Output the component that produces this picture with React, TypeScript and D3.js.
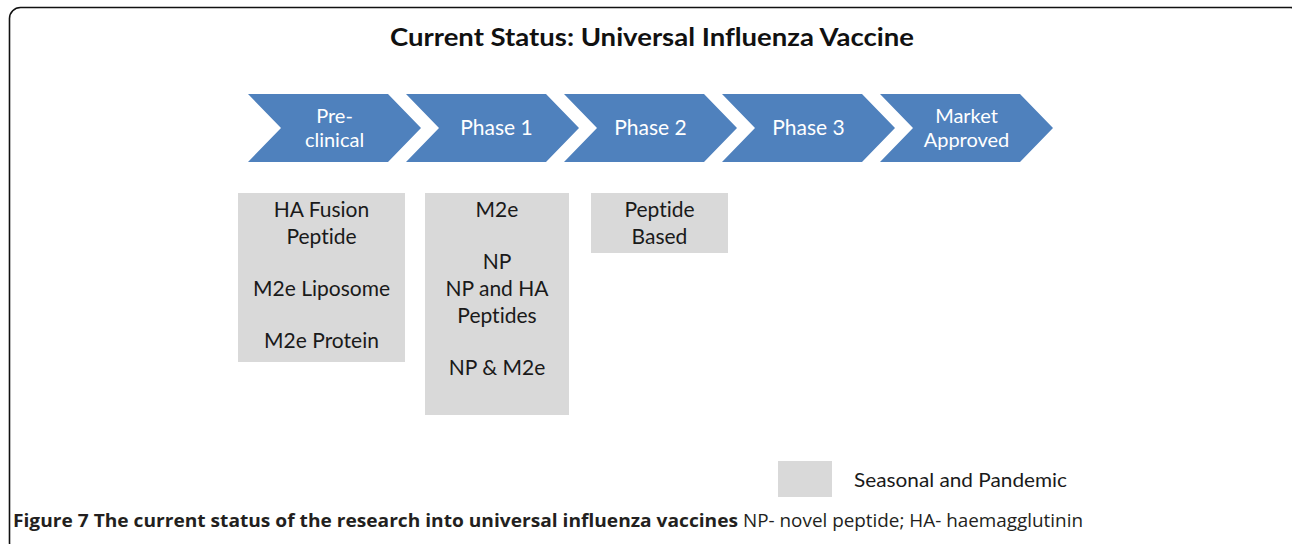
import * as d3 from 'd3';

// stages of the pipeline (\n = line break)
const phases = ['Pre-\nclinical', 'Phase 1', 'Phase 2', 'Phase 3', 'Market\nApproved'];

// candidates per stage, grouped in paragraphs
const preclinicalItems = [['HA Fusion', 'Peptide'], ['M2e Liposome'], ['M2e Protein']];
const phase1Items = [['M2e'], ['NP', 'NP and HA', 'Peptides'], ['NP & M2e']];
const phase2Items = [['Peptide', 'Based']];

const legendLabels = ['Seasonal and Pandemic'];

const title = 'Current Status: Universal Influenza Vaccine';
const captionBold = 'Figure 7 The current status of the research into universal influenza vaccines';
const captionRest = 'NP- novel peptide; HA- haemagglutinin';

const W = 1292;
const H = 544;
const BLUE = '#4f81bd';
const GRAY = '#d9d9d9';
const FONT = 'Lato, "Open Sans", sans-serif';
const CAP_FONT = '"Open Sans", Lato, sans-serif';
const noLig = { fontVariantLigatures: 'none' as const };

// layout
const chevTop = 94;
const chevBot = 162;
const chevBody = 140;
const chevTip = 33;
const boxTop = 193;
const boxes = [
  { items: preclinicalItems, x0: 238, x1: 405, bottom: 362 },
  { items: phase1Items, x0: 425, x1: 569, bottom: 415 },
  { items: phase2Items, x0: 591, x1: 728, bottom: 253 },
];

function chevronPath(x: number) {
  const mid = (chevTop + chevBot) / 2;
  const p = d3.path();
  p.moveTo(x, chevTop);
  p.lineTo(x + chevBody, chevTop);
  p.lineTo(x + chevBody + chevTip, mid);
  p.lineTo(x + chevBody, chevBot);
  p.lineTo(x, chevBot);
  p.lineTo(x + chevTip, mid);
  p.closePath();
  return p.toString();
}

function lineYs(groups: string[][]) {
  const out: { text: string; y: number }[] = [];
  let y = 210;
  groups.forEach((g, gi) => {
    if (gi > 0) y += 25;
    g.forEach((t, i) => {
      if (i > 0 || gi > 0) y += 27;
      out.push({ text: t, y });
    });
  });
  return out;
}

export default function App() {
  const x = d3.scalePoint<string>().domain(phases).range([248, 880]);
  const mid = (chevTop + chevBot) / 2;

  return (
    <svg width={W} height={H} style={{ position: 'absolute', left: 0, top: 0, display: 'block' }}>
      <rect x={0} y={0} width={W} height={H} fill="#fff" />
      <rect x={9.5} y={7.5} width={1292} height={546} rx={11} fill="none" stroke="#111" strokeWidth={1.6} />

      <text
        x={652}
        y={37}
        dy="0.35em"
        textAnchor="middle"
        fontFamily={FONT}
        fontWeight="bold"
        fontSize={25}
        textLength={524}
        lengthAdjust="spacingAndGlyphs"
        fill="#111"
        style={noLig}
      >
        {title}
      </text>

      {phases.map((ph, pi) => {
        const x0 = x(ph)!;
        const lines = ph.split('\n');
        const cx = x0 + (chevTip + chevBody) / 2 + (pi === 1 ? 4 : 0);
        const fs = lines.length > 1 ? 20 : 21;
        return (
          <g key={ph}>
            <path d={chevronPath(x0)} fill={BLUE} />
            {lines.map((l, i) => (
              <text
                key={l}
                x={cx}
                y={mid + (i - (lines.length - 1) / 2) * 24.5}
                dy="0.35em"
                textAnchor="middle"
                fontFamily={FONT}
                fontSize={fs}
                fill="#fff"
                style={noLig}
              >
                {l}
              </text>
            ))}
          </g>
        );
      })}

      {boxes.map((b, bi) => (
        <g key={bi}>
          <rect x={b.x0} y={boxTop} width={b.x1 - b.x0} height={b.bottom - boxTop} fill={GRAY} />
          {lineYs(b.items).map((l, i) => (
            <text
              key={i}
              x={(b.x0 + b.x1) / 2}
              y={l.y}
              dy="0.35em"
              textAnchor="middle"
              fontFamily={FONT}
              fontSize={21}
              fill="#1a1a1a"
              style={noLig}
            >
              {l.text}
            </text>
          ))}
        </g>
      ))}

      {legendLabels.map((lab) => (
        <g key={lab}>
          <rect x={778} y={461} width={54} height={36} fill={GRAY} />
          <text
            x={854}
            y={480}
            dy="0.35em"
            fontFamily={FONT}
            fontSize={19}
            textLength={213}
            lengthAdjust="spacingAndGlyphs"
            fill="#1a1a1a"
            style={noLig}
          >
            {lab}
          </text>
        </g>
      ))}

      <text
        x={13}
        y={527}
        fontFamily={CAP_FONT}
        fontWeight="bold"
        fontSize={18}
        textLength={725}
        lengthAdjust="spacingAndGlyphs"
        fill="#231f20"
      >
        {captionBold}
      </text>
      <text
        x={743}
        y={527}
        fontFamily={CAP_FONT}
        fontSize={18}
        textLength={340}
        lengthAdjust="spacingAndGlyphs"
        fill="#231f20"
      >
        {captionRest}
      </text>
    </svg>
  );
}
